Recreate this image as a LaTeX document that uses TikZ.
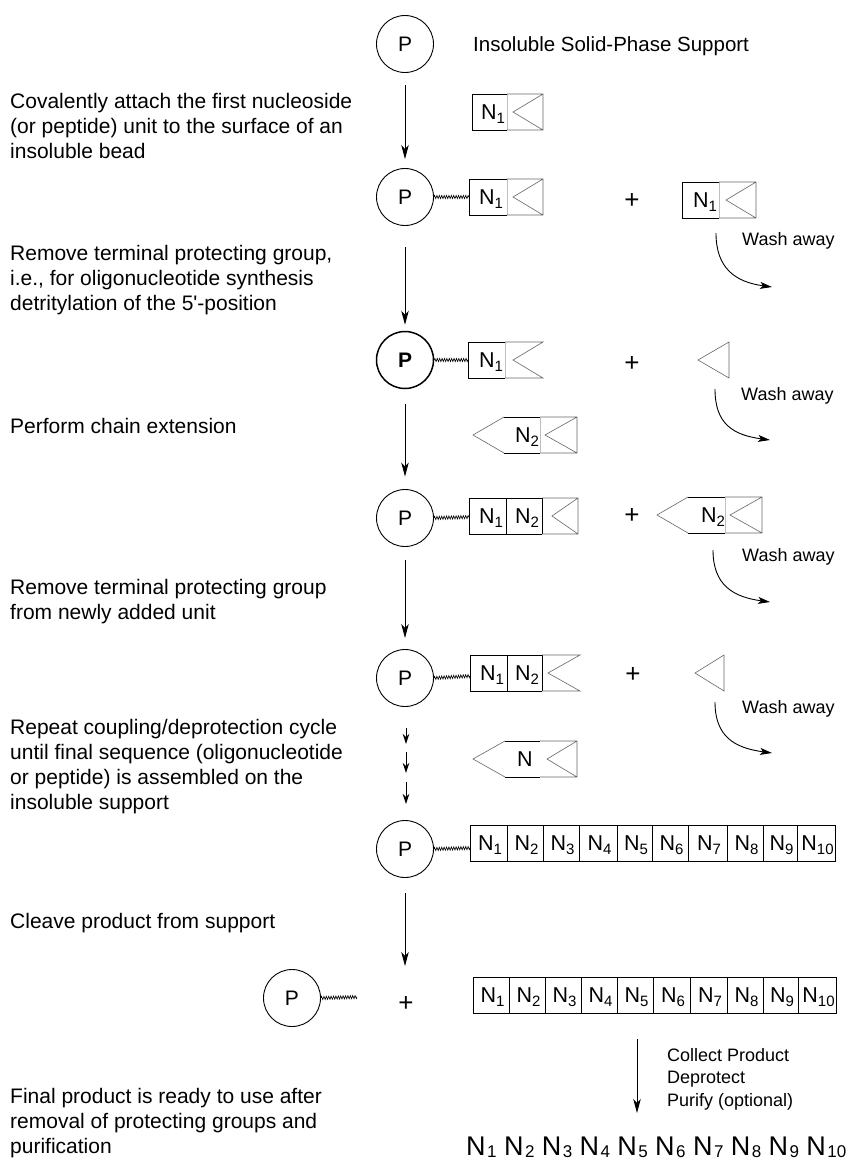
\documentclass[tikz,border=0pt]{standalone}
\usepackage{fontspec}
\setmainfont{Liberation Sans}
\usetikzlibrary{arrows.meta,decorations.pathmorphing}
\newcommand{\Nn}[1]{N\raisebox{-3.8pt}{\fontsize{15}{15}\selectfont #1}}
\newcommand{\Nbig}[1]{\makebox[37.8pt][l]{N\kern1.5pt\raisebox{-2.8pt}{\fontsize{17}{17}\selectfont #1}}}
\newcommand{\blines}[1]{\begin{tabular}[t]{@{}l@{}}#1\end{tabular}}
\tikzset{
  bead/.style={circle, draw, line width=0.9pt, minimum size=57pt, inner sep=0pt, font=\fontsize{21}{21}\selectfont},
  blk/.style={line width=0.9pt, black},
  pg/.style={line width=0.6pt, black!60},
  faint/.style={line width=0.5pt, black!25},
  arr/.style={line width=0.9pt, -{Stealth[length=14pt,width=7.5pt,inset=4pt]}},
  sarr/.style={line width=0.9pt, -{Stealth[length=10pt,width=6.5pt,inset=3pt]}},
  wash/.style={line width=0.9pt, -{Stealth[length=12pt,width=7pt,inset=3pt]}},
  link/.style={line width=0.6pt, decorate, decoration={zigzag, segment length=2.4pt, amplitude=1.6pt}},
  lab/.style={anchor=base, inner sep=0pt, font=\fontsize{21.5}{21.5}\selectfont},
  txt/.style={anchor=base west, inner sep=0pt, font=\fontsize{21}{25}\selectfont},
  wtxt/.style={anchor=west, inner sep=0pt, font=\fontsize{18}{18}\selectfont},
  plus/.style={inner sep=0pt, font=\fontsize{26}{26}\selectfont},
}
\begin{document}
\begin{tikzpicture}[x=1pt,y=-1pt]
\path[use as bounding box, fill=white] (0,0) rectangle (857,1160);

% ---------- left descriptions ----------
\node[txt] (t1) at (10,108) {\blines{Covalently attach the first nucleoside\\(or peptide) unit to the surface of an\\insoluble bead}};
\node[txt] (t2) at (10,260) {\blines{Remove terminal protecting group,\\i.e., for oligonucleotide synthesis\\detritylation of the 5\textquotesingle-position}};
\node[txt] (t3) at (10,433) {Perform chain extension};
\node[txt] (t4) at (10,594) {\blines{Remove terminal protecting group\\from newly added unit}};
\node[txt] (t5) at (10,734) {\blines{Repeat coupling/deprotection cycle\\until final sequence (oligonucleotide\\or peptide) is assembled on the\\insoluble support}};
\node[txt] (t6) at (10,928) {Cleave product from support};
\node[txt] (t7) at (10,1103) {\blines{Final product is ready to use after\\removal of protecting groups and\\purification}};

% ---------- beads ----------
\node[bead] (b1) at (405,44) {P};
\node[txt, font=\fontsize{20.5}{25}\selectfont] (sup) at (473,51) {Insoluble Solid-Phase Support};
\node[bead] (b2) at (405,197) {P};
\node[bead, line width=1.5pt, font=\fontsize{21}{21}\selectfont\bfseries] (b3) at (405,360) {P};
\node[bead] (b4) at (405,518) {P};
\node[bead] (b5) at (405,678) {P};
\node[bead] (b6) at (405,849) {P};
\node[bead] (b7) at (292,998) {P};

% ---------- main arrows ----------
\draw[arr, shorten <=12pt, shorten >=9pt] (b1) -- (b2);
\draw[arr, shorten <=21.5pt, shorten >=6pt] (b2) -- (b3);
\draw[arr, shorten <=14.5pt, shorten >=12.5pt] (b3) -- (b4);
\coordinate (a4e) at (405,638);
\draw[arr, shorten <=13.5pt] (b4) -- (a4e);
\coordinate (s1a) at (406,728); \coordinate (s1b) at (406,744);
\coordinate (s2a) at (406,752); \coordinate (s2b) at (406,773);
\coordinate (s3a) at (406,782); \coordinate (s3b) at (406,804);
\draw[sarr] (s1a) -- (s1b);
\draw[sarr] (s2a) -- (s2b);
\draw[sarr] (s3a) -- (s3b);
\coordinate (a5e) at (405,966);
\draw[arr, shorten <=15.5pt] (b6) -- (a5e);

% ---------- row A : reagent N1 ----------
\draw[blk] (507,94) -- (472,94) -- (472,130) -- (507,130);
\draw[faint] (507,94) -- (507,130);
\draw[pg] (507,94) -- (543,94) -- (543,130) -- (507,130) (543,94) -- (513,112) -- (543,130);
\node[lab] (nA) at (493,119.5) {\Nn{1}};

% ---------- row B ----------
\coordinate (lB) at (469,197);
\draw[link] (b2.east) -- (lB);
\draw[blk] (507,179) -- (469,179) -- (469,215) -- (507,215);
\draw[faint] (507,179) -- (507,215);
\draw[pg] (507,179) -- (543,179) -- (543,215) -- (507,215) (543,179) -- (513,197) -- (543,215);
\node[lab] (nB) at (491,204.5) {\Nn{1}};
\node[plus] (pB) at (632,201) {+};
\draw[blk] (719,182) -- (682,182) -- (682,218) -- (719,218);
\draw[faint] (719,182) -- (719,218);
\draw[pg] (719,182) -- (756,182) -- (756,218) -- (719,218) (756,182) -- (726,200) -- (756,218);
\node[lab] (nB2) at (705,207.5) {\Nn{1}};
\coordinate (w1s) at (716,233); \coordinate (w1e) at (772,287);
\draw[wash] (w1s) .. controls (716,268) and (735,282) .. (w1e);
\node[wtxt] (wl1) at (742,241) {Wash away};

% ---------- row C ----------
\coordinate (lC) at (468,360);
\draw[link] (b3.east) -- (lC);
\draw[blk] (505,342) -- (468,342) -- (468,378) -- (505,378);
\draw[faint] (505,342) -- (505,378);
\draw[pg] (505,342) -- (543,342) -- (513,360) -- (543,378) -- (505,378);
\node[lab] (nC) at (491,367.5) {\Nn{1}};
\node[plus] (pC) at (632,364) {+};
\draw[pg] (729,342) -- (729,378) -- (698,360) -- cycle;
\coordinate (w2s) at (715,389); \coordinate (w2e) at (770,440);
\draw[wash] (w2s) .. controls (715,424) and (733,435) .. (w2e);
\node[wtxt] (wl2) at (741,396) {Wash away};

% ---------- row D : reagent N2 ----------
\draw[pg] (504,417) -- (473,435) -- (504,453);
\draw[blk] (504,417) -- (540,417) (504,453) -- (540,453);
\draw[pg] (540,417) -- (577,417) -- (577,453) -- (540,453) (577,417) -- (545,435) -- (577,453);
\draw[faint] (540,417) -- (540,453);
\node[lab] (nD) at (527,442.5) {\Nn{2}};

% ---------- row E ----------
\coordinate (lE) at (469,517);
\draw[link] (b4.east) -- (lE);
\draw[blk] (542,498) -- (469,498) -- (469,534) -- (542,534) (506,498) -- (506,534) (542,498) -- (542,534);
\draw[pg] (542,498) -- (578,498) -- (578,534) -- (542,534) (578,498) -- (552,516) -- (578,534);
\node[lab] (nE1) at (491,523.5) {\Nn{1}};
\node[lab] (nE2) at (527,523.5) {\Nn{2}};
\node[plus] (pE) at (632,516) {+};
\draw[pg] (688,497) -- (657,515) -- (688,533);
\draw[blk] (688,497) -- (725,497) (688,533) -- (725,533);
\draw[pg] (725,497) -- (762,497) -- (762,533) -- (725,533) (762,497) -- (730,515) -- (762,533);
\draw[faint] (725,497) -- (725,533);
\node[lab] (nE3) at (713,522.5) {\Nn{2}};
\coordinate (w3s) at (713,550); \coordinate (w3e) at (770,602);
\draw[wash] (w3s) .. controls (713,585) and (733,597) .. (w3e);
\node[wtxt] (wl3) at (742,557) {Wash away};

% ---------- row F ----------
\coordinate (lF) at (470,676);
\draw[link] (b5.east) -- (lF);
\draw[blk] (542,655) -- (470,655) -- (470,691) -- (542,691) (507,655) -- (507,691) (542,655) -- (542,691);
\draw[pg] (542,655) -- (580,655) -- (548,673) -- (580,691) -- (542,691);
\node[lab] (nF1) at (492,680.5) {\Nn{1}};
\node[lab] (nF2) at (527,680.5) {\Nn{2}};
\node[plus] (pF) at (633,675) {+};
\draw[pg] (724,655) -- (724,691) -- (695,673) -- cycle;
\coordinate (w4s) at (715,702); \coordinate (w4e) at (772,753);
\draw[wash] (w4s) .. controls (715,737) and (735,748) .. (w4e);
\node[wtxt] (wl4) at (742,709) {Wash away};

% ---------- reagent N ----------
\draw[pg] (505,741) -- (473,759) -- (505,777);
\draw[blk] (505,741) -- (540,741) (505,777) -- (540,777);
\draw[pg] (540,741) -- (577,741) -- (577,777) -- (540,777) (577,741) -- (547,759) -- (577,777);
\node[lab] (nN) at (525,766.5) {N};

% ---------- row G : full chain on support ----------
\coordinate (lG) at (470,848);
\draw[link] (b6.east) -- (lG);
\foreach \a/\b/\i in {470/507/1,507/543/2,543/579/3,579/617/4,617/652/5,652/688/6,688/727/7,727/763/8,763/797/9,797/835/10}{
  \draw[blk] (\a,825) rectangle (\b,861);
  \node[lab] (g\i) at ({(\a+\b)/2+1.5},850.5) {\Nn{\i}};
}

% ---------- row H : cleaved ----------
\coordinate (lH) at (357,997);
\draw[link] (b7.east) -- (lH);
\node[plus] (pH) at (406,1004) {+};
\foreach \a/\b/\i in {473/509/1,509/545/2,545/581/3,581/617/4,617/653/5,653/690/6,690/727/7,727/763/8,763/798/9,798/836/10}{
  \draw[blk] (\a,977) rectangle (\b,1013);
  \node[lab] (h\i) at ({(\a+\b)/2+1.5},1002.5) {\Nn{\i}};
}

% ---------- final ----------
\coordinate (a6s) at (637,1039); \coordinate (a6e) at (637,1113);
\draw[arr] (a6s) -- (a6e);
\node[anchor=base west, inner sep=0pt, font=\fontsize{18}{22.5}\selectfont] (col) at (667,1061) {\blines{Collect Product\\Deprotect\\Purify (optional)}};
\node[anchor=base west, inner sep=0pt, font=\fontsize{27}{27}\selectfont] (fin) at (466,1155)
  {\Nbig{1}\Nbig{2}\Nbig{3}\Nbig{4}\Nbig{5}\Nbig{6}\Nbig{7}\Nbig{8}\Nbig{9}N\kern1.5pt\raisebox{-2.8pt}{\fontsize{17}{17}\selectfont 10}};
\end{tikzpicture}
\end{document}
